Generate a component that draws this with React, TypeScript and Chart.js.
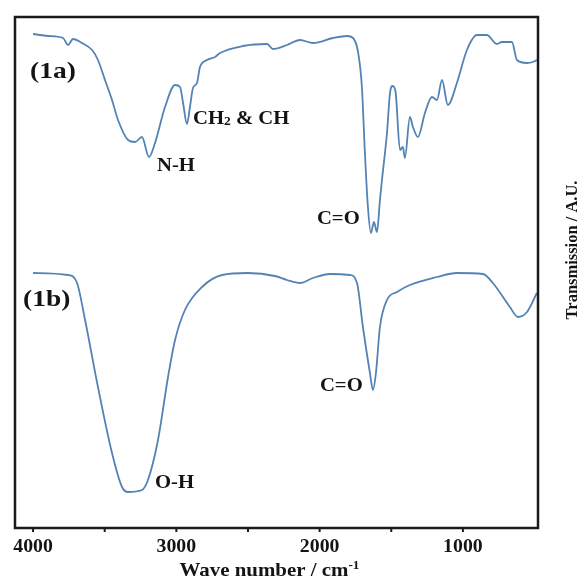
import React, { useEffect, useRef } from "react";
import { Chart, registerables } from "chart.js";

Chart.register(...registerables);

// Spectrum (1a): wavenumber (cm-1) and transmission (A.U.)
const waveA = [4000, 3895, 3791, 3756, 3721, 3658, 3588, 3547, 3498, 3449, 3407, 3337, 3288, 3240, 3191, 3149, 3079, 3009, 2974, 2953, 2926, 2905, 2884, 2856, 2835, 2786, 2730, 2695, 2535, 2367, 2326, 2228, 2137, 2046, 1907, 1809, 1767, 1732, 1705, 1684, 1663, 1642, 1621, 1600, 1579, 1565, 1530, 1509, 1490, 1470, 1439, 1419, 1405, 1370, 1349, 1314, 1265, 1216, 1181, 1146, 1105, 1042, 972, 902, 833, 763, 728, 658, 623, 553, 512, 484];
const transA = [494, 492, 490, 483, 489, 485, 478, 468, 448, 428, 408, 388, 386, 391, 371, 385, 421, 443, 441, 425, 404, 421, 440, 445, 461, 468, 471, 475, 482, 484, 479, 483, 488, 485, 490, 492, 490, 476, 441, 375, 321, 295, 306, 296, 328, 348, 395, 435, 442, 436, 378, 381, 370, 411, 401, 391, 415, 431, 428, 448, 423, 445, 478, 493, 493, 484, 486, 486, 468, 465, 466, 468];

// Spectrum (1b)
const waveB = [4000, 3756, 3693, 3637, 3547, 3449, 3379, 3337, 3240, 3198, 3128, 3058, 3009, 2940, 2821, 2681, 2500, 2312, 2228, 2137, 2046, 1928, 1788, 1739, 1698, 1649, 1628, 1607, 1579, 1530, 1460, 1370, 1181, 1042, 860, 791, 672, 616, 553, 484];
const transB = [255, 253, 245, 208, 141, 75, 41, 36, 38, 48, 88, 151, 188, 218, 241, 253, 255, 252, 248, 245, 250, 254, 253, 245, 201, 155, 138, 155, 201, 228, 236, 243, 251, 255, 254, 245, 221, 211, 216, 235];

const majorTicks = [4000, 3000, 2000, 1000];
const minorTicks = [3500, 2500, 1500];

// Peak annotations: text, anchor wavenumber (left edge), anchor value (baseline)
const annText = ["(1a)", "(1b)", "N-H", "CH2 & CH", "C=O", "C=O", "O-H"];
const annWave = [4021, 4070, 3135, 2884, 2019, 1998, 3149];
const annValue = [450, 222, 357, 404, 304, 137, 40];

const xTitle = "Wave number / cm";
const yTitle = "Transmission / A.U.";

const FONT = '"Liberation Serif", "Times New Roman", serif';
const LINE = "#5383b4";
const INK = "#141414";

type Part = { t: string; size: number; dy?: number };

function drawRich(ctx: CanvasRenderingContext2D, parts: Part[], x: number, y: number, sx: number, align: "left" | "center") {
  let w = 0;
  for (const p of parts) {
    ctx.font = `bold ${p.size}px ${FONT}`;
    w += ctx.measureText(p.t).width;
  }
  ctx.save();
  ctx.translate(x, y);
  ctx.scale(sx, 1);
  ctx.fillStyle = INK;
  ctx.textAlign = "left";
  ctx.textBaseline = "alphabetic";
  let cx = align === "center" ? -w / 2 : 0;
  for (const p of parts) {
    ctx.font = `bold ${p.size}px ${FONT}`;
    ctx.fillText(p.t, cx, p.dy || 0);
    cx += ctx.measureText(p.t).width;
  }
  ctx.restore();
}

function partsFor(text: string, size: number): Part[] {
  if (text === "CH2 & CH") {
    return [
      { t: "CH", size },
      { t: "2", size: size * 0.65, dy: 1 },
      { t: " & CH", size },
    ];
  }
  return [{ t: text, size }];
}

const decorPlugin = {
  id: "decor",
  afterDraw(chart: any) {
    const { ctx, chartArea } = chart;
    const { left, top, right, bottom } = chartArea;
    const xs = chart.scales.x;
    const ys = chart.scales.y;
    ctx.save();
    // frame
    ctx.strokeStyle = "#1a1a1a";
    ctx.lineWidth = 2.5;
    ctx.strokeRect(left, top, right - left, bottom - top);
    // ticks
    ctx.lineWidth = 2;
    for (const t of [...majorTicks, ...minorTicks]) {
      const px = xs.getPixelForValue(t);
      ctx.beginPath();
      ctx.moveTo(px, bottom);
      ctx.lineTo(px, bottom + 4);
      ctx.stroke();
    }
    // tick labels
    for (const t of majorTicks) {
      drawRich(ctx, [{ t: String(t), size: 18 }], xs.getPixelForValue(t), bottom + 24, 1.1, "center");
    }
    // x title
    drawRich(
      ctx,
      [
        { t: xTitle, size: 19 },
        { t: "-1", size: 12, dy: -7 },
      ],
      (left + right) / 2 - 7,
      bottom + 48,
      1.1,
      "center"
    );
    // y title (right side, rotated)
    ctx.save();
    ctx.translate(577, 250);
    ctx.rotate(-Math.PI / 2);
    ctx.scale(1.03, 1);
    ctx.font = `bold 16px ${FONT}`;
    ctx.fillStyle = INK;
    ctx.textAlign = "center";
    ctx.textBaseline = "alphabetic";
    ctx.fillText(yTitle, 0, 0);
    ctx.restore();
    // annotations
    annText.forEach((txt, i) => {
      const big = txt.startsWith("(");
      const size = big ? 22.5 : 18;
      const sx = big ? 1.22 : 1.15;
      drawRich(ctx, partsFor(txt, size), xs.getPixelForValue(annWave[i]), ys.getPixelForValue(annValue[i]), sx, "left");
    });
    ctx.restore();
  },
};

export default function App() {
  const ref = useRef<HTMLCanvasElement | null>(null);
  useEffect(() => {
    if (!ref.current) return;
    const chart = new Chart(ref.current, {
      type: "line",
      data: {
        datasets: [
          {
            label: "1a",
            data: waveA.map((w, i) => ({ x: w, y: transA[i] })),
            borderColor: LINE,
            borderWidth: 1.8,
            pointRadius: 0,
            fill: false,
            cubicInterpolationMode: "monotone",
          },
          {
            label: "1b",
            data: waveB.map((w, i) => ({ x: w, y: transB[i] })),
            borderColor: LINE,
            borderWidth: 1.8,
            pointRadius: 0,
            fill: false,
            cubicInterpolationMode: "monotone",
          },
        ],
      },
      options: {
        responsive: false,
        maintainAspectRatio: false,
        animation: false,
        devicePixelRatio: 1,
        layout: { padding: { left: 15, top: 17, right: 42, bottom: 51 } },
        plugins: { legend: { display: false }, tooltip: { enabled: false } },
        scales: {
          x: { type: "linear", display: false, min: 476, max: 4126, reverse: true },
          y: { type: "linear", display: false, min: 0, max: 511 },
        },
      },
      plugins: [decorPlugin],
    } as any);
    return () => chart.destroy();
  }, []);
  return (
    <div style={{ position: "fixed", left: 0, top: 0, width: 580, height: 579, background: "#fff" }}>
      <canvas ref={ref} width={580} height={579} style={{ display: "block" }} />
    </div>
  );
}
